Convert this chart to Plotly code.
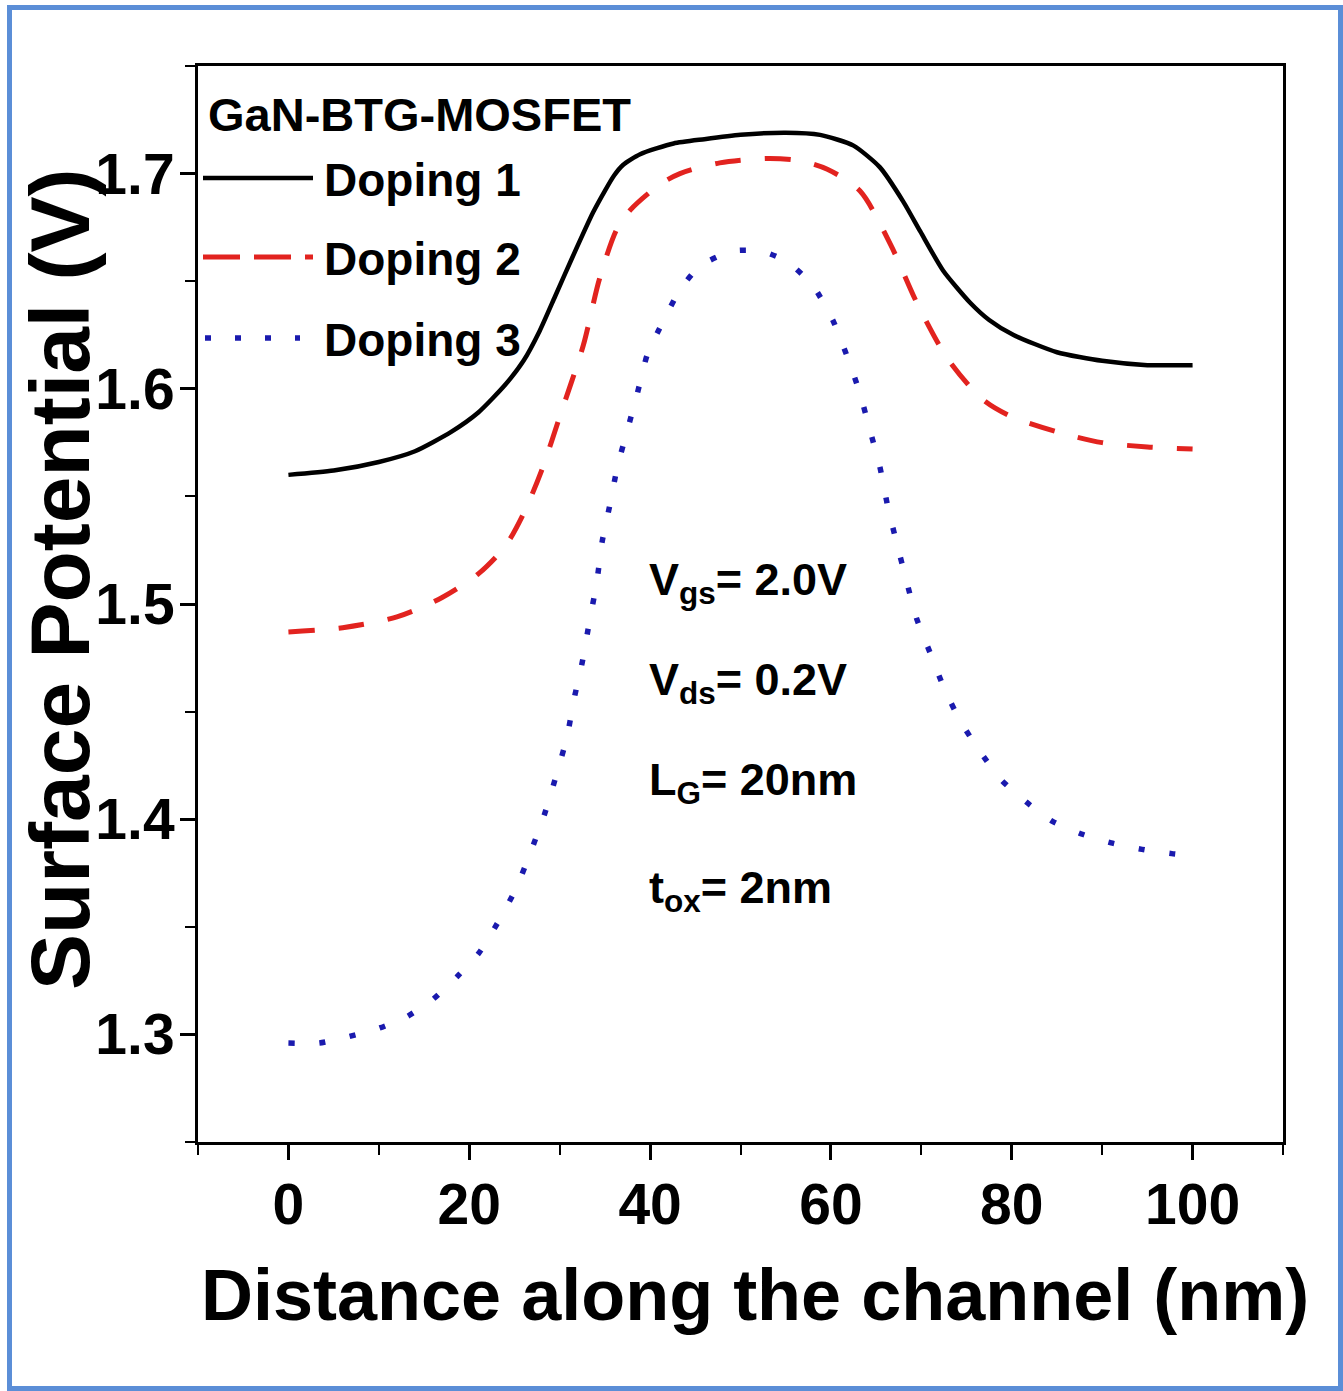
import plotly.graph_objects as go

# ---------------- data ----------------
x_d1 = [0, 5, 10, 14, 18, 21, 24, 26, 27.8, 29.5, 31.4, 33.7, 35, 36, 37, 38.9, 42.6, 46, 50, 55, 58.8, 62.5, 65.4, 68, 69.9, 72.4, 75.4, 77.5, 80.2, 85, 90, 95, 100]
y_d1 = [1.560, 1.562, 1.566, 1.571, 1.580, 1.589, 1.602, 1.613, 1.627, 1.643, 1.661, 1.682, 1.692, 1.699, 1.704, 1.709, 1.714, 1.716, 1.718, 1.719, 1.718, 1.713, 1.703, 1.687, 1.673, 1.655, 1.640, 1.632, 1.625, 1.617, 1.613, 1.611, 1.611]

x_d2 = [0, 6, 12, 17, 21, 24, 26, 28, 30, 32.6, 34.4, 36.3, 37.8, 41.1, 43.3, 47.7, 53, 56.5, 59.6, 63.2, 66.6, 69.5, 72.9, 76.8, 80, 85, 90, 95, 100]
y_d2 = [1.487, 1.489, 1.494, 1.503, 1.514, 1.527, 1.542, 1.562, 1.587, 1.620, 1.651, 1.674, 1.683, 1.695, 1.700, 1.705, 1.707, 1.706, 1.702, 1.692, 1.667, 1.640, 1.614, 1.595, 1.587, 1.580, 1.575, 1.573, 1.572]

x_d3 = [0, 3.4, 6.7, 10.1, 13, 15.9, 18.7, 21.1, 23.3, 25.2, 26.9, 28.3, 29.6, 30.8, 31.6, 32.5, 33.3, 34.1, 34.7, 35.5, 36.4, 37.5, 38.6, 39.7, 41.4, 43.3, 45.5, 49.1, 52.3, 55.2, 58, 60.2, 61.8, 63.2, 64.3, 65.4, 66.3, 67.3, 68.4, 69.5, 71.1, 72.6, 74.4, 76.4, 78.9, 81.6, 84.5, 87.8, 91, 94.4, 97.7, 100]
y_d3 = [1.296, 1.296, 1.299, 1.303, 1.308, 1.316, 1.327, 1.338, 1.353, 1.368, 1.386, 1.402, 1.420, 1.438, 1.456, 1.473, 1.492, 1.510, 1.529, 1.545, 1.564, 1.581, 1.598, 1.616, 1.631, 1.646, 1.657, 1.664, 1.664, 1.659, 1.648, 1.632, 1.615, 1.598, 1.581, 1.564, 1.545, 1.528, 1.510, 1.493, 1.476, 1.460, 1.445, 1.432, 1.418, 1.408, 1.399, 1.393, 1.389, 1.386, 1.384, 1.383]

series_names = ["Doping 1", "Doping 2", "Doping 3"]
legend_title = "GaN-BTG-MOSFET"
params_text = ["V<sub>gs</sub>= 2.0V", "V<sub>ds</sub>= 0.2V", "L<sub>G</sub>= 20nm", "t<sub>ox</sub>= 2nm"]
x_title = "Distance along the channel (nm)"
y_title = "Surface Potential (V)"

# ---------------- layout helpers ----------------
W, H = 1343, 1391
PL, PR, PT, PB = 198, 1283, 66, 1142


def px(x):
    return (x - PL) / (PR - PL)


def py(y):
    return (PB - y) / (PB - PT)


FONT = "Liberation Sans, Arial, Helvetica, sans-serif"

fig = go.Figure()
fig.add_trace(go.Scatter(x=x_d1, y=y_d1, mode="lines", name=series_names[0],
                         line=dict(color="#000000", width=4.5, shape="spline", smoothing=0.6)))
fig.add_trace(go.Scatter(x=x_d2, y=y_d2, mode="lines", name=series_names[1],
                         line=dict(color="#E2231F", width=5, dash="26px,24px", shape="spline", smoothing=0.8)))
fig.add_trace(go.Scatter(x=x_d3, y=y_d3, mode="lines", name=series_names[2],
                         line=dict(color="#1A1AAE", width=5.5, dash="6px,25px", shape="spline", smoothing=0.6)))

axis_common = dict(showline=True, linewidth=3, linecolor="black", mirror=True,
                   showgrid=False, zeroline=False, ticks="outside", ticklen=15,
                   tickwidth=2.5, tickcolor="black",
                   tickfont=dict(family=FONT, size=57, color="black", weight="bold"))

fig.update_xaxes(range=[-10, 110], tick0=0, dtick=20, ticklabelstandoff=-4,
                 minor=dict(dtick=10, tick0=0, ticks="outside", ticklen=10, tickwidth=2, tickcolor="black"),
                 **axis_common)
fig.update_yaxes(range=[1.25, 1.75], tick0=1.3, dtick=0.1, tickformat=".1f", ticklabelstandoff=-6,
                 minor=dict(dtick=0.05, tick0=1.25, ticks="outside", ticklen=10, tickwidth=2, tickcolor="black"),
                 **axis_common)

annotations = []
# axis titles
annotations.append(dict(text=x_title, xref="paper", yref="paper", x=px(755), y=py(1295),
                        xanchor="center", yanchor="middle", showarrow=False,
                        font=dict(family=FONT, size=72, color="black", weight="bold")))
annotations.append(dict(text=y_title, xref="paper", yref="paper", x=px(60), y=py(579),
                        xanchor="center", yanchor="middle", showarrow=False, textangle=-90,
                        font=dict(family=FONT, size=84, color="black", weight="bold")))
# legend title and entries
annotations.append(dict(text=legend_title, xref="paper", yref="paper", x=px(206), y=py(114),
                        xanchor="left", yanchor="middle", showarrow=False,
                        font=dict(family=FONT, size=47, color="black", weight="bold")))
legend_y = [178, 257, 338]
for name, ly in zip(series_names, legend_y):
    annotations.append(dict(text=name, xref="paper", yref="paper", x=px(322), y=py(ly + 2),
                            xanchor="left", yanchor="middle", showarrow=False,
                            font=dict(family=FONT, size=46, color="black", weight="bold")))
# parameter text block
param_y = [582, 682, 782, 890]
for t, ty in zip(params_text, param_y):
    annotations.append(dict(text=t, xref="paper", yref="paper", x=px(647), y=py(ty),
                            xanchor="left", yanchor="middle", showarrow=False,
                            font=dict(family=FONT, size=45, color="black", weight="bold")))

shapes = [
    dict(type="line", xref="paper", yref="paper", x0=px(203), x1=px(313), y0=py(178), y1=py(178),
         line=dict(color="#000000", width=4.5)),
    dict(type="line", xref="paper", yref="paper", x0=px(203), x1=px(313), y0=py(257), y1=py(257),
         line=dict(color="#E2231F", width=5, dash="37px,14px")),
    dict(type="line", xref="paper", yref="paper", x0=px(205), x1=px(300), y0=py(338), y1=py(338),
         line=dict(color="#1A1AAE", width=5.5, dash="6px,24px")),
    dict(type="rect", xref="paper", yref="paper", x0=px(9.5), x1=px(1340.5), y0=py(1388.5), y1=py(7.5),
         line=dict(color="#5B8ED7", width=5), fillcolor="rgba(0,0,0,0)", layer="above"),
]

fig.update_layout(width=W, height=H, margin=dict(l=PL, r=W - PR, t=PT, b=H - PB),
                  plot_bgcolor="white", paper_bgcolor="white", showlegend=False,
                  annotations=annotations, shapes=shapes)

fig.write_html("out.html")
